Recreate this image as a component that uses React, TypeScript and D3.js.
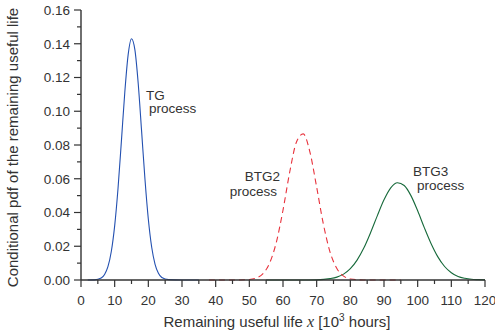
import React from "react";
import * as d3 from "d3";

// Remaining useful life (10^3 hours) and conditional pdf values
const tgX = [2, 4, 6, 7, 8, 9, 10, 11, 12, 13, 14, 15, 16, 17, 18, 19, 20, 21, 22, 23, 24, 26, 30, 35];
const tgY = [0, 0.0001, 0.0012, 0.0033, 0.0079, 0.0169, 0.0321, 0.0544, 0.0823, 0.111, 0.1334, 0.143, 0.1365, 0.1163, 0.0882, 0.0597, 0.036, 0.0194, 0.0093, 0.004, 0.0015, 0.0002, 0, 0];

const btg2X = [38, 45, 50, 52, 54, 56, 58, 60, 62, 64, 66, 68, 70, 72, 74, 76, 78, 80, 84, 95];
const btg2Y = [0, 0, 0.0003, 0.0011, 0.0036, 0.0099, 0.0222, 0.0414, 0.064, 0.0818, 0.0866, 0.0758, 0.055, 0.033, 0.0164, 0.0068, 0.0023, 0.0006, 0, 0];

const btg3X = [55, 65, 70, 74, 76, 78, 80, 82, 84, 86, 88, 90, 92, 94, 96, 98, 100, 102, 104, 106, 108, 110, 112, 114, 116, 118, 120];
const btg3Y = [0, 0, 0.0001, 0.0008, 0.0017, 0.0035, 0.0067, 0.0118, 0.0189, 0.028, 0.038, 0.0475, 0.0546, 0.0576, 0.056, 0.05, 0.041, 0.0309, 0.0215, 0.0137, 0.008, 0.0043, 0.0021, 0.001, 0.0004, 0.0002, 0.0001];

const xTicks = [0, 10, 20, 30, 40, 50, 60, 70, 80, 90, 100, 110, 120];
const xMinor = [5, 15, 25, 35, 45, 55, 65, 75, 85, 95, 105, 115];
const yTicks = [0, 0.02, 0.04, 0.06, 0.08, 0.1, 0.12, 0.14, 0.16];
const yMinor = [0.01, 0.03, 0.05, 0.07, 0.09, 0.11, 0.13, 0.15];

const W = 495;
const H = 333;
const FONT = "'Liberation Sans', Arial, Helvetica, sans-serif";
const AX = "#333";
const TXT = "#333";

export default function App() {
  const x = d3.scaleLinear().domain([0, 120]).range([81, 485]);
  const y = d3.scaleLinear().domain([0, 0.16]).range([280, 10]);

  const line = d3
    .line<[number, number]>()
    .x((d) => x(d[0]))
    .y((d) => y(d[1]))
    .curve(d3.curveMonotoneX);

  const pts = (xs: number[], ys: number[]) => xs.map((v, i) => [v, ys[i]] as [number, number]);

  return (
    <svg
      width={W}
      height={H}
      style={{ position: "absolute", left: 0, top: 0, background: "#fff" }}
      fontFamily={FONT}
    >
      {/* curves */}
      <path d={line(pts(tgX, tgY)) || ""} fill="none" stroke="#2350b0" strokeWidth={1.1} />
      <path d={line(pts(btg3X, btg3Y)) || ""} fill="none" stroke="#16693a" strokeWidth={1.1} />
      <path
        d={line(pts(btg2X, btg2Y)) || ""}
        fill="none"
        stroke="#e8323c"
        strokeWidth={1.1}
        strokeDasharray="6,4"
      />

      {/* axes */}
      <line x1={x(0)} x2={x(0)} y1={y(0.16)} y2={y(0)} stroke={AX} strokeWidth={1.4} />
      <line x1={x(0)} x2={x(120)} y1={y(0)} y2={y(0)} stroke={AX} strokeWidth={1.4} />
      {yTicks.map((t) => (
        <g key={"yt" + t}>
          <line x1={x(0) - 7} x2={x(0)} y1={y(t)} y2={y(t)} stroke={AX} strokeWidth={1.2} />
          <text x={x(0) - 11} y={y(t)} dy="0.36em" textAnchor="end" fontSize={13.5} fill={TXT}>
            {t.toFixed(2)}
          </text>
        </g>
      ))}
      {yMinor.map((t) => (
        <line key={"ym" + t} x1={x(0) - 4} x2={x(0)} y1={y(t)} y2={y(t)} stroke={AX} strokeWidth={1.2} />
      ))}
      {xTicks.map((t) => (
        <g key={"xt" + t}>
          <line x1={x(t)} x2={x(t)} y1={y(0)} y2={y(0) + 7} stroke={AX} strokeWidth={1.2} />
          <text x={x(t)} y={305} textAnchor="middle" fontSize={13.5} fill={TXT}>
            {t}
          </text>
        </g>
      ))}
      {xMinor.map((t) => (
        <line key={"xm" + t} x1={x(t)} x2={x(t)} y1={y(0)} y2={y(0) + 4} stroke={AX} strokeWidth={1.2} />
      ))}

      {/* axis titles */}
      <text x={277} y={327} textAnchor="middle" fontSize={15} fill={TXT}>
        Remaining useful life{" "}
        <tspan fontFamily="'Liberation Serif', 'Times New Roman', serif" fontStyle="italic" fontSize={16}>
          x
        </tspan>{" "}
        [10
        <tspan dy={-6} fontSize={10}>
          3
        </tspan>
        <tspan dy={6}> hours]</tspan>
      </text>
      <text
        transform="translate(18,147.5) rotate(-90)"
        textAnchor="middle"
        fontSize={15}
        fill={TXT}
      >
        Conditional pdf of the remaining useful life
      </text>

      {/* annotations */}
      <text x={146} y={99.5} fontSize={13.5} fill={TXT}>TG</text>
      <text x={149} y={113} fontSize={13.5} fill={TXT}>process</text>
      <text x={280} y={181} textAnchor="end" fontSize={13.5} fill={TXT}>BTG2</text>
      <text x={277} y={195.5} textAnchor="end" fontSize={13.5} fill={TXT}>process</text>
      <text x={413} y={176} fontSize={13.5} fill={TXT}>BTG3</text>
      <text x={417} y={190} fontSize={13.5} fill={TXT}>process</text>
    </svg>
  );
}
